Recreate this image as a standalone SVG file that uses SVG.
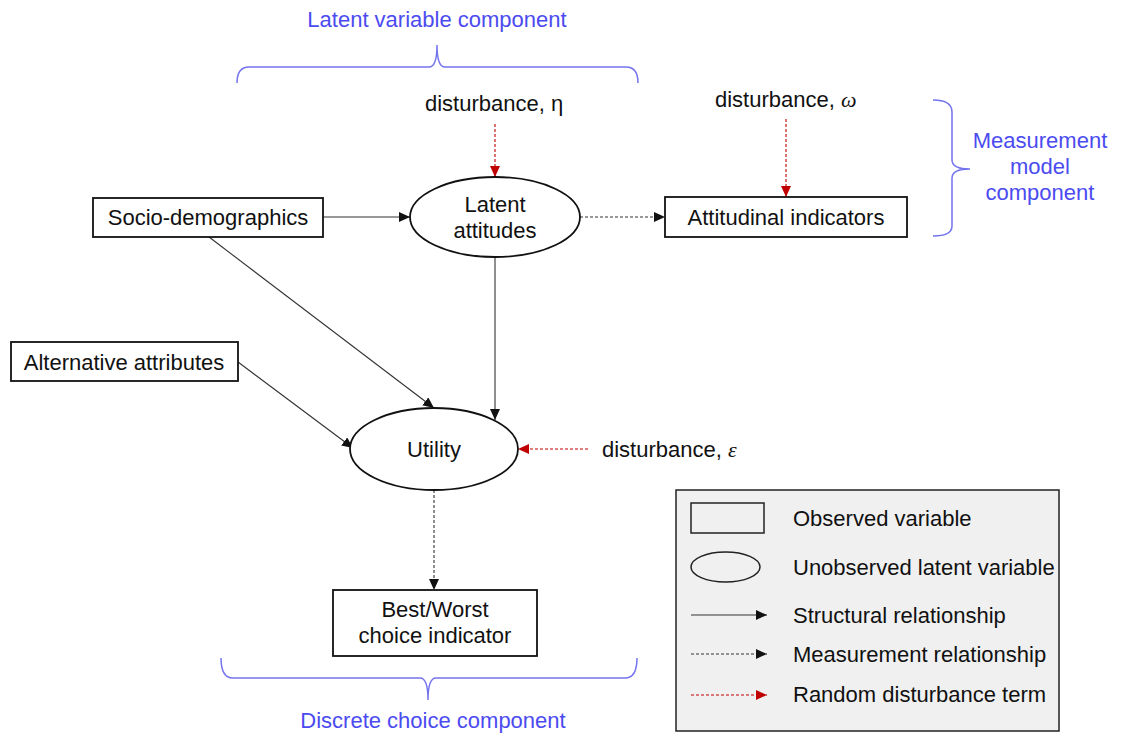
<svg xmlns="http://www.w3.org/2000/svg" width="1123" height="738" viewBox="0 0 1123 738">
<style>
text{font-family:"Liberation Sans",Arial,sans-serif;font-size:22px;fill:#111}
.mid{text-anchor:middle}
.blue{fill:#4b4bf0}
.brace{fill:none;stroke:#7474ee;stroke-width:1.5}
.node{fill:#fff;stroke:#111;stroke-width:1.8}
.solid{fill:none;stroke:#333;stroke-width:1.1;marker-end:url(#ab)}
.dash{fill:none;stroke:#333;stroke-width:1.1;stroke-dasharray:3 2;marker-end:url(#ab)}
.red{fill:none;stroke:#c00000;stroke-width:1.1;stroke-dasharray:3 2;marker-end:url(#ar)}
</style>
<defs>
<marker id="ab" markerUnits="userSpaceOnUse" markerWidth="11" markerHeight="10" refX="11" refY="5" orient="auto"><path d="M0,0 L11,5 L0,10 z" fill="#111"/></marker>
<marker id="ar" markerUnits="userSpaceOnUse" markerWidth="11" markerHeight="10" refX="11" refY="5" orient="auto"><path d="M0,0 L11,5 L0,10 z" fill="#c00000"/></marker>
</defs>
<rect width="1123" height="738" fill="#fff"/>

<g id="braces">
<path class="brace" d="M237,83 Q237,67 249,67 L429,67 Q437,67 437,45 Q437,67 445,67 L626,67 Q638,67 638,83"/>
<path class="brace" d="M933,100 Q952,100 952,112 L952,160 Q952,169 970,169 Q952,169 952,178 L952,226 Q952,236 933,236"/>
<path class="brace" d="M221,658 Q221,678 233,678 L420,678 Q428,678 428,700 Q428,678 436,678 L625,678 Q637,678 637,658"/>
<text class="blue mid" x="437" y="27">Latent variable component</text>
<text class="blue mid" x="1040" y="148">Measurement</text>
<text class="blue mid" x="1040" y="174">model</text>
<text class="blue mid" x="1040" y="200">component</text>
<text class="blue mid" x="433" y="728">Discrete choice component</text>
</g>

<g id="connectors">
<line class="solid" x1="323" y1="217" x2="410" y2="217"/>
<line class="dash" x1="580" y1="217" x2="665" y2="217"/>
<line class="solid" x1="209" y1="237" x2="434" y2="408"/>
<line class="solid" x1="238" y1="362" x2="353" y2="448"/>
<line class="solid" x1="495" y1="257" x2="495" y2="420"/>
<line class="dash" x1="434" y1="490" x2="434" y2="590"/>
<line class="red" x1="495" y1="124" x2="495" y2="177"/>
<line class="red" x1="786" y1="119" x2="786" y2="197"/>
<line class="red" x1="588" y1="449" x2="518" y2="449"/>
</g>

<g id="dist-eta"><text x="425" y="111">disturbance, η</text></g>
<g id="dist-omega"><text x="715" y="107">disturbance, <tspan font-family="Liberation Serif,serif" font-style="italic">ω</tspan></text></g>
<g id="dist-eps"><text x="602" y="457">disturbance, <tspan font-family="Liberation Serif,serif" font-style="italic">ε</tspan></text></g>

<g id="socio">
<rect class="node" x="93" y="198" width="230" height="39"/>
<text class="mid" x="208" y="225">Socio-demographics</text>
</g>
<g id="latent">
<ellipse class="node" cx="495" cy="217" rx="85" ry="40"/>
<text class="mid" x="495" y="212">Latent</text>
<text class="mid" x="495" y="238">attitudes</text>
</g>
<g id="indicators">
<rect class="node" x="665" y="197" width="242" height="40"/>
<text class="mid" x="786" y="225">Attitudinal indicators</text>
</g>
<g id="alternative">
<rect class="node" x="11" y="342" width="227" height="39"/>
<text class="mid" x="124" y="370">Alternative attributes</text>
</g>
<g id="utility">
<ellipse class="node" cx="434" cy="449" rx="84" ry="41"/>
<text class="mid" x="434" y="457">Utility</text>
</g>
<g id="bestworst">
<rect class="node" x="333" y="590" width="204" height="66"/>
<text class="mid" x="435" y="617">Best/Worst</text>
<text class="mid" x="435" y="643">choice indicator</text>
</g>

<g id="legend">
<rect x="676" y="490" width="383" height="241" fill="#f0f0f0" stroke="#222" stroke-width="1.5"/>
<rect x="691" y="503" width="73" height="30" fill="none" stroke="#222" stroke-width="1.5"/>
<ellipse cx="725.5" cy="567" rx="34.5" ry="15" fill="none" stroke="#222" stroke-width="1.5"/>
<line class="solid" x1="691" y1="615" x2="767" y2="615"/>
<line class="dash" x1="691" y1="654" x2="767" y2="654"/>
<line class="red" x1="691" y1="695" x2="767" y2="695"/>
<text x="793" y="526">Observed variable</text>
<text x="793" y="575">Unobserved latent variable</text>
<text x="793" y="623">Structural relationship</text>
<text x="793" y="662">Measurement relationship</text>
<text x="793" y="702">Random disturbance term</text>
</g>
</svg>
